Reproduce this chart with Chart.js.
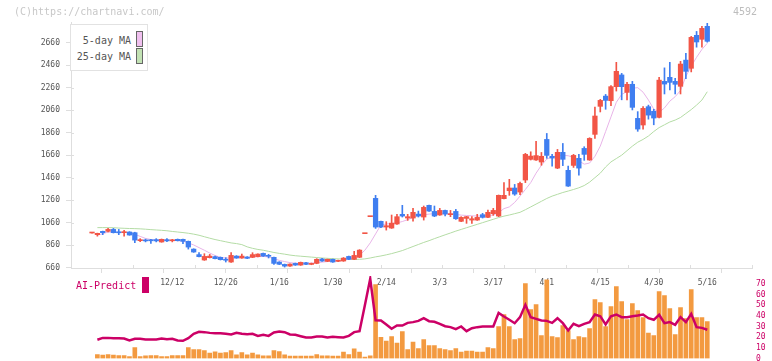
<!DOCTYPE html>
<html>
<head>
<meta charset="utf-8">
<script src="https://cdn.jsdelivr.net/npm/chart.js@4.4.1/dist/chart.umd.min.js"></script>
<style>
  html, body { margin: 0; padding: 0; background: #fff; }
  #wrap { position: relative; width: 772px; height: 361px; overflow: hidden; font-family: "DejaVu Sans Mono", monospace; }
  #wrap canvas { position: absolute; left: 0; }
  .copy { position: absolute; left: 14px; top: 5px; font-size: 10px; line-height: 14px; color: #c8c8c8; }
  .code { position: absolute; right: 15px; top: 5px; font-size: 10px; line-height: 14px; color: #bdbdbd; }
  .legend { position: absolute; left: 70px; top: 24px; width: 76px; height: 45px; border: 1px solid #e2e2e2; background: #fff; }
  .legend .item { position: absolute; right: 16px; font-size: 10px; line-height: 14px; color: #555; }
  .legend .sw { position: absolute; left: 65px; width: 5px; height: 14px; border: 1px solid #666; }
  .ai-label { position: absolute; left: 76px; top: 279px; font-size: 10px; line-height: 14px; color: #cc0066; }
  .ai-box { position: absolute; left: 142px; top: 277px; width: 7px; height: 16px; background: #cc0066; }
</style>
</head>
<body>
<div id="wrap">
  <canvas id="priceChart" width="772" height="361" style="top:0"></canvas>
  <canvas id="aiChart" width="772" height="91" style="top:270px"></canvas>
  <div class="copy">(C)https://chartnavi.com/</div>
  <div class="code">4592</div>
  <div class="legend">
    <div class="item" style="top:9px">5-day MA</div>
    <div class="sw" style="top:6px;background:#f0c0ef"></div>
    <div class="item" style="top:25px">25-day MA</div>
    <div class="sw" style="top:23px;background:#c2e2b4"></div>
  </div>
  <div class="ai-label">AI-Predict</div>
  <div class="ai-box"></div>
</div>
<script>
// date labels under the price chart (every 10 trading days)
const dateLabels = ['12/12', '12/26', '1/16', '1/30', '2/14', '3/3', '3/17', '4/1', '4/15', '4/30', '5/16'];
const dateIndex = [15, 25, 35, 45, 55, 65, 75, 85, 95, 105, 115];

const priceTicks = [660, 860, 1060, 1260, 1460, 1660, 1860, 2060, 2260, 2460, 2660];
const aiTicks = [0, 10, 20, 30, 40, 50, 60, 70];

const openPrice = [
  968, 953, 983, 983, 1000, 974, 971, 977, 971, 900,
  904, 903, 909, 888, 909, 899, 912, 912, 894, 825,
  776, 728, 749, 758, 752, 730, 710, 763, 746, 755,
  752, 758, 787, 765, 752, 710, 689, 674, 698, 683,
  704, 689, 698, 737, 716, 734, 716, 719, 760, 734,
  752, 962, 1113, 1276, 1072, 1021, 1012, 1048, 1134, 1101,
  1101, 1136, 1110, 1214, 1160, 1128, 1169, 1131, 1160, 1072,
  1098, 1083, 1083, 1131, 1107, 1140, 1119, 1273, 1344, 1368,
  1332, 1439, 1623, 1617, 1599, 1800, 1650, 1545, 1685, 1525,
  1569, 1632, 1720, 1617, 1845, 2094, 2185, 2144, 2269, 2373,
  2218, 2290, 1987, 1928, 2091, 2050, 1996, 2316, 2352, 2316,
  2272, 2505, 2432, 2725, 2690, 2805
];
const highPrice = [
  974, 967, 985, 1009, 1009, 1000, 991, 980, 975, 918,
  914, 912, 918, 915, 918, 912, 915, 915, 897, 828,
  793, 784, 778, 762, 755, 749, 793, 767, 781, 758,
  793, 784, 790, 778, 755, 713, 692, 695, 701, 710,
  707, 701, 740, 743, 737, 737, 728, 750, 763, 805,
  820, 962, 1113, 1303, 1075, 1069, 1128, 1134, 1214, 1134,
  1187, 1163, 1208, 1217, 1208, 1187, 1172, 1169, 1178, 1113,
  1116, 1113, 1134, 1143, 1172, 1187, 1306, 1416, 1445, 1400,
  1421, 1676, 1690, 1782, 1684, 1853, 1667, 1711, 1764, 1563,
  1667, 1667, 1735, 1815, 2088, 2156, 2200, 2278, 2485, 2387,
  2307, 2316, 2047, 2091, 2105, 2068, 2352, 2436, 2485, 2343,
  2494, 2565, 2716, 2760, 2805, 2832
];
const lowPrice = [
  966, 940, 953, 978, 968, 953, 941, 948, 882, 891,
  889, 876, 889, 886, 891, 889, 897, 873, 825, 796,
  755, 725, 746, 737, 728, 710, 707, 743, 743, 740,
  749, 755, 760, 746, 689, 687, 665, 671, 680, 680,
  686, 686, 695, 716, 713, 707, 713, 716, 731, 731,
  749, 962, 1113, 1009, 1015, 994, 1009, 1045, 1110, 1080,
  1074, 1110, 1083, 1160, 1113, 1125, 1119, 1113, 1089, 1069,
  1054, 1054, 1080, 1101, 1104, 1125, 1113, 1270, 1303, 1303,
  1309, 1416, 1617, 1614, 1570, 1632, 1563, 1540, 1567, 1382,
  1551, 1483, 1614, 1614, 1809, 2044, 2068, 2100, 2230, 2152,
  2152, 2062, 1872, 1892, 1980, 1930, 1990, 2204, 2240, 2204,
  2204, 2340, 2400, 2620, 2620, 2664
];
const closePrice = [
  972, 965, 971, 1000, 971, 970, 980, 950, 905, 905,
  898, 899, 898, 912, 898, 902, 900, 894, 843, 799,
  758, 760, 763, 740, 731, 726, 769, 746, 763, 743,
  776, 781, 763, 761, 698, 690, 674, 692, 683, 707,
  689, 698, 734, 719, 734, 710, 725, 745, 734, 769,
  816, 962, 1113, 1021, 1021, 1033, 1056, 1113, 1119, 1113,
  1152, 1119, 1196, 1163, 1119, 1169, 1136, 1136, 1095, 1107,
  1113, 1095, 1107, 1107, 1152, 1169, 1303, 1303, 1368, 1314,
  1409, 1667, 1652, 1656, 1650, 1658, 1634, 1685, 1623, 1385,
  1658, 1545, 1667, 1809, 2008, 2147, 2147, 2269, 2405, 2269,
  2290, 2085, 1892, 2076, 2016, 1990, 2327, 2292, 2307, 2290,
  2470, 2405, 2707, 2666, 2787, 2672
];

const ma5 = [
  null, 948, 962, 976, 975, 974, 973, 971, 956, 938,
  920, 910, 906, 904, 903, 903, 900, 895, 880, 862,
  838, 815, 790, 768, 752, 746, 746, 747, 748, 750,
  755, 757, 760, 755, 740, 725, 714, 705, 700, 698,
  699, 701, 704, 709, 714, 719, 722, 726, 735, 745,
  770, 815, 880, 960, 1040, 1048, 1052, 1058, 1070, 1087,
  1105, 1122, 1130, 1136, 1140, 1140, 1140, 1138, 1133, 1127,
  1124, 1121, 1119, 1119, 1122, 1128, 1150, 1185, 1200, 1240,
  1296, 1355, 1416, 1500, 1570, 1625, 1645, 1655, 1658, 1655,
  1640, 1610, 1580, 1590, 1650, 1740, 1870, 2000, 2130, 2200,
  2225, 2255, 2260, 2220, 2150, 2070, 2040, 2080, 2140, 2180,
  2235, 2360, 2450, 2530, 2600, 2655
];
const ma25 = [
  null, 1016, 1016, 1016, 1015, 1012, 1010, 1008, 1007, 1005,
  1002, 998, 995, 992, 988, 982, 977, 972, 966, 958,
  948, 935, 922, 910, 900, 890, 880, 874, 865, 845,
  832, 822, 815, 805, 795, 787, 780, 772, 766, 762,
  758, 754, 750, 746, 743, 740, 738, 736, 735, 734,
  734, 738, 746, 756, 764, 774, 785, 798, 812, 830,
  848, 866, 884, 900, 918, 935, 952, 968, 985, 1000,
  1015, 1030, 1045, 1060, 1075, 1090, 1105, 1118, 1128, 1140,
  1152, 1175, 1200, 1225, 1250, 1275, 1296, 1312, 1328, 1341,
  1355, 1370, 1390, 1420, 1460, 1500, 1555, 1600, 1630, 1660,
  1700, 1740, 1775, 1800, 1830, 1870, 1905, 1930, 1955, 1972,
  1995, 2030, 2065, 2105, 2150, 2224
];

const aiVolume = [
  null, 3.8, 3.1, 3.8, 3.1, 2.8, 2.8, 1.9, 10.3, 1.9,
  2.5, 2.8, 2.8, 1.9, 1.9, 2.8, 2.8, 2.8, 10.3, 8.5,
  8.5, 7.5, 5, 6.3, 5, 5.6, 7.5, 3.4, 5.6, 3.4,
  5, 3.4, 2.5, 2.5, 7.5, 6.6, 3.4, 2.2, 2.2, 2.2,
  2.2, 2.2, 3.8, 2.5, 2.5, 2.2, 2.2, 6, 3.8, 9.1,
  6, 1.3, 2.5, 69.6, 20, 16.5, 20.7, 14.4, 25.4, 8.5,
  15.4, 9.4, 17.9, 12.2, 12.2, 9.4, 8.5, 7.5, 9.4, 6,
  6.9, 6.9, 6, 6, 10.3, 9.4, 30, 41.4, 30, 17.9,
  18.8, 70.5, 46, 50.8, 21.6, 74, 20.7, 19.7, 31, 26.3,
  17.9, 20.7, 19.7, 28.2, 55.5, 52.7, 30, 48.9, 67.7, 53.6,
  36.7, 51.7, 45.1, 38.6, 23.8, 21.6, 63, 59.2, 47, 22.6,
  48, 37.6, 64.9, 38.6, 38.6, 34.8
];
const aiPredict = [
  null, 17.6, 19.4, 19.4, 19.1, 19.1, 18.8, 16.9, 18.5, 18.5,
  17.9, 17.9, 17.9, 18.8, 18.2, 18.5, 16.9, 16.6, 19.1, 23.2,
  25.1, 24.8, 24.1, 23.8, 23.8, 23.2, 22.6, 24.1, 23.2, 22.9,
  23.2, 21.3, 22.3, 21.3, 24.5, 25.4, 24.8, 22.6, 22.3, 21,
  19.7, 19.7, 20.7, 20.7, 19.7, 20.4, 20.1, 19.7, 21.3, 24.8,
  25.7, 50, 75, 36, 35.7, 32, 27.9, 31, 31, 33.5,
  34.2, 35.4, 37.9, 35.1, 34.5, 32.6, 30.4, 29.5, 27.6, 30.1,
  25.7, 28.5, 29.5, 30.1, 30.1, 30.1, 42.9, 39.5, 36.4, 33.2,
  38.9, 50.5, 38.9, 37.3, 35.7, 35.4, 33.5, 37.9, 33.2, 26.3,
  32.6, 30.4, 32.6, 34.2, 41.4, 39.8, 32, 39.8, 41.4, 38.9,
  38.9, 39.8, 40.4, 41.4, 37.9, 36.4, 41.1, 33.2, 34.2, 31.7,
  38.9, 34.2, 42, 29.5, 28.8, 27
];

const UP = '#f25546';
const DOWN = '#3f7ef0';
const AXIS = '#dedede';
const X_MIN = -3.93;
const X_MAX = 123.36;
const tickFont = { family: 'DejaVu Sans Mono', size: 8 };

const idx = closePrice.map((_, i) => i);
const candleColors = closePrice.map((c, i) => (c >= openPrice[i] ? UP : DOWN));

// short inner part of the axis tick marks (they cross the axis line)
const crossTicks = {
  id: 'crossTicks',
  afterDraw(chart) {
    const { ctx, chartArea, scales } = chart;
    ctx.save();
    ctx.strokeStyle = AXIS;
    ctx.lineWidth = 1;
    ctx.beginPath();
    scales.x.ticks.forEach(t => {
      const px = Math.round(scales.x.getPixelForValue(t.value)) + 0.5;
      ctx.moveTo(px, chartArea.bottom - 3);
      ctx.lineTo(px, chartArea.bottom);
    });
    scales.y.ticks.forEach(t => {
      const py = Math.round(scales.y.getPixelForValue(t.value)) + 0.5;
      ctx.moveTo(chartArea.left, py);
      ctx.lineTo(chartArea.left + 3, py);
    });
    ctx.stroke();
    ctx.restore();
  }
};

new Chart(document.getElementById('priceChart'), {
  type: 'bar',
  data: {
    datasets: [
      {
        type: 'bar',
        label: 'body',
        data: idx.map(i => ({ x: i, y: [openPrice[i], closePrice[i]] })),
        backgroundColor: candleColors,
        barThickness: 4.6,
        minBarLength: 1,
        grouped: false,
        order: 0
      },
      {
        type: 'bar',
        label: 'wick',
        data: idx.map(i => ({ x: i, y: [lowPrice[i], highPrice[i]] })),
        backgroundColor: candleColors,
        barThickness: 1,
        grouped: false,
        order: 1
      },
      {
        type: 'line',
        label: '5-day MA',
        data: idx.map(i => ({ x: i, y: ma5[i] })),
        borderColor: '#e8b4e8',
        borderWidth: 1,
        pointRadius: 0,
        order: 2
      },
      {
        type: 'line',
        label: '25-day MA',
        data: idx.map(i => ({ x: i, y: ma25[i] })),
        borderColor: '#b4dca5',
        borderWidth: 1,
        pointRadius: 0,
        order: 3
      }
    ]
  },
  options: {
    responsive: false,
    animation: false,
    layout: { padding: { left: 0, right: 20, top: 22, bottom: 68 } },
    plugins: { legend: { display: false }, tooltip: { enabled: false } },
    scales: {
      x: {
        type: 'linear',
        min: X_MIN,
        max: X_MAX,
        offset: false,
        weight: 0,
        grid: { drawOnChartArea: false, color: AXIS, tickLength: 5 },
        border: { color: AXIS },
        ticks: { display: false },
        afterBuildTicks: s => {
          s.ticks = Array.from({ length: 12 }, (_, k) => ({ value: X_MIN + k * (X_MAX - X_MIN) / 11 }));
        },
        afterFit: s => { s.height = 5; s.paddingLeft = 0; s.paddingRight = 0; }
      },
      dates: {
        type: 'linear',
        axis: 'x',
        position: 'bottom',
        min: X_MIN,
        max: X_MAX,
        offset: false,
        weight: 1,
        grid: { display: false, drawTicks: false },
        border: { display: false },
        ticks: {
          font: tickFont,
          color: '#555',
          padding: 5,
          maxRotation: 0,
          autoSkip: false,
          callback: (v, k) => dateLabels[k]
        },
        afterBuildTicks: s => { s.ticks = dateIndex.map(v => ({ value: v })); },
        afterFit: s => { s.height = 20; s.paddingLeft = 0; s.paddingRight = 0; }
      },
      y: {
        type: 'linear',
        min: 657,
        max: 2843.7,
        beginAtZero: false,
        grid: { drawOnChartArea: false, color: AXIS, tickLength: 5 },
        border: { color: AXIS },
        ticks: { font: tickFont, color: '#555', padding: 6, autoSkip: false, callback: v => String(v) },
        afterBuildTicks: s => { s.ticks = priceTicks.map(v => ({ value: v })); },
        afterFit: s => { s.width = 71; s.paddingTop = 0; s.paddingBottom = 0; }
      }
    }
  },
  plugins: [crossTicks]
});

new Chart(document.getElementById('aiChart'), {
  type: 'bar',
  data: {
    datasets: [
      {
        type: 'line',
        label: 'AI-Predict',
        data: idx.map(i => ({ x: i, y: aiPredict[i] })),
        borderColor: '#cc0066',
        borderWidth: 2.5,
        pointRadius: 0,
        order: 0
      },
      {
        type: 'bar',
        label: 'AI',
        data: idx.map(i => ({ x: i, y: aiVolume[i] })),
        backgroundColor: '#f39a40',
        barThickness: 4,
        grouped: false,
        order: 1
      }
    ]
  },
  options: {
    responsive: false,
    animation: false,
    layout: { padding: { left: 71, right: 0, top: 6, bottom: 2.5 } },
    plugins: { legend: { display: false }, tooltip: { enabled: false } },
    scales: {
      x: { type: 'linear', min: X_MIN, max: X_MAX, offset: false, display: false },
      y: {
        type: 'linear',
        position: 'right',
        min: 0,
        max: 77.6,
        grid: { display: false, drawTicks: false },
        border: { display: false },
        ticks: { font: tickFont, color: '#cc0066', padding: 4, autoSkip: false, callback: v => String(v) },
        afterBuildTicks: s => { s.ticks = aiTicks.map(v => ({ value: v })); },
        afterFit: s => { s.width = 20; s.paddingTop = 0; s.paddingBottom = 0; }
      }
    }
  }
});
</script>
</body>
</html>
